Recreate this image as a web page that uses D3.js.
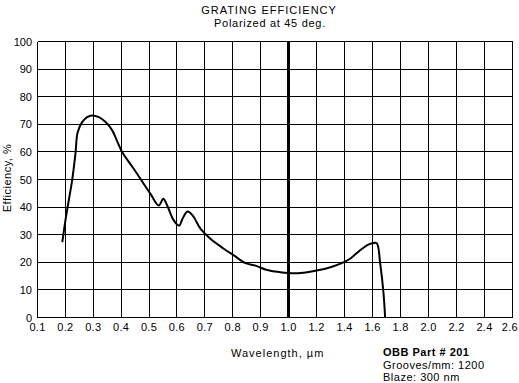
<!DOCTYPE html>
<html><head><meta charset="utf-8">
<script src="https://cdn.jsdelivr.net/npm/d3@7"></script>
<style>body{margin:0;background:#fff}svg{display:block}text{font-family:"Liberation Sans",Arial,sans-serif;fill:#000}</style>
</head><body>
<svg id="c" width="519" height="383"></svg>
<script>
const wavelength = [0.189,0.2,0.212,0.224,0.236,0.244,0.26,0.278,0.296,0.32,0.344,0.368,0.386,0.404,0.445,0.505,0.535,0.551,0.565,0.589,0.608,0.62,0.638,0.656,0.685,0.72,0.768,0.804,0.846,0.882,0.92,0.97,1.0,1.086,1.2,1.3,1.38,1.44,1.51,1.57,1.6,1.63,1.655,1.679,1.69];
const efficiency = [27.3,35.1,42.4,49.6,59.3,67.1,70.8,72.6,73.2,72.6,70.8,67.8,63.8,59.9,53.9,44.8,40.6,43.0,40.6,35.1,33.3,35.8,38.4,37.0,32.1,28.5,24.9,22.5,19.7,18.8,17.3,16.4,16.1,16.1,17.0,18.2,19.7,21.3,24.3,26.4,26.9,26.9,19.5,8.6,0];
const xTicks = [0.1,0.2,0.3,0.4,0.5,0.6,0.7,0.8,0.9,1.0,1.2,1.4,1.6,1.8,2.0,2.2,2.4,2.6];
const xTickLabels = ["0.1","0.2","0.3","0.4","0.5","0.6","0.7","0.8","0.9","1.0","1.2","1.4","1.6","1.8","2.0","2.2","2.4","2.6"];
const yTicks = [0,10,20,30,40,50,60,70,80,90,100];
const titleLines = ["GRATING EFFICIENCY","Polarized at  45 deg."];
const infoLines = ["OBB Part # 201","Grooves/mm: 1200","Blaze: 300 nm"];

const W = 519;
const svg = d3.select("#c");
const L=37.5, R=512.5, T=41.5, B=317.5;
const x = d3.scaleLinear().domain([0.1,1.0,2.6]).range([L,288.5,R]);
const y = d3.scaleLinear().domain([0,100]).range([B,T]);

const g = svg.append("g").attr("shape-rendering","crispEdges");
g.selectAll(".v").data(xTicks).join("line")
  .attr("x1",d=>x(d)).attr("x2",d=>x(d)).attr("y1",T).attr("y2",B)
  .attr("stroke","#000").attr("stroke-width",1);
g.selectAll(".h").data(yTicks).join("line")
  .attr("x1",L).attr("x2",R).attr("y1",d=>y(d)).attr("y2",d=>y(d))
  .attr("stroke","#000").attr("stroke-width",1);
g.append("line").attr("x1",x(1.0)).attr("x2",x(1.0)).attr("y1",T).attr("y2",B)
  .attr("stroke","#000").attr("stroke-width",3);

svg.selectAll(".yl").data(yTicks).join("text")
  .attr("x",32).attr("y",d=>y(d)+4).attr("text-anchor","end")
  .attr("font-size",11).text(d=>d);
svg.selectAll(".xl").data(xTicks).join("text")
  .attr("y",331).attr("text-anchor","middle")
  .attr("font-size",11).attr("letter-spacing",0.3).text((d,i)=>xTickLabels[i])
  .attr("x",function(d){const w=this.getComputedTextLength(); return Math.min(x(d), W-1-w/2);});

const line = d3.line().x((d,i)=>x(wavelength[i])).y(d=>y(d)).curve(d3.curveCatmullRom.alpha(0.5));
svg.append("path").datum(efficiency).attr("d",line)
  .attr("fill","none").attr("stroke","#000").attr("stroke-width",2);

svg.append("text").attr("x",269).attr("y",14).attr("text-anchor","middle").attr("font-size",11).attr("letter-spacing",1).text(titleLines[0]);
svg.append("text").attr("x",270).attr("y",27).attr("text-anchor","middle").attr("font-size",11).attr("letter-spacing",0.7).text(titleLines[1]);
svg.append("text").attr("transform","translate(11,178) rotate(-90)").attr("text-anchor","middle").attr("font-size",11).attr("letter-spacing",0.5).text("Efficiency, %");
svg.append("text").attr("x",231).attr("y",357).attr("font-size",11).attr("letter-spacing",1).text("Wavelength,  \u00b5m");
svg.selectAll(".info").data(infoLines).join("text")
  .attr("x",383).attr("y",(d,i)=>356+i*12.5).attr("font-size",11).attr("letter-spacing",0.5)
  .attr("font-weight",(d,i)=>i===0?"bold":"normal").text(d=>d);
</script>
</body></html>
